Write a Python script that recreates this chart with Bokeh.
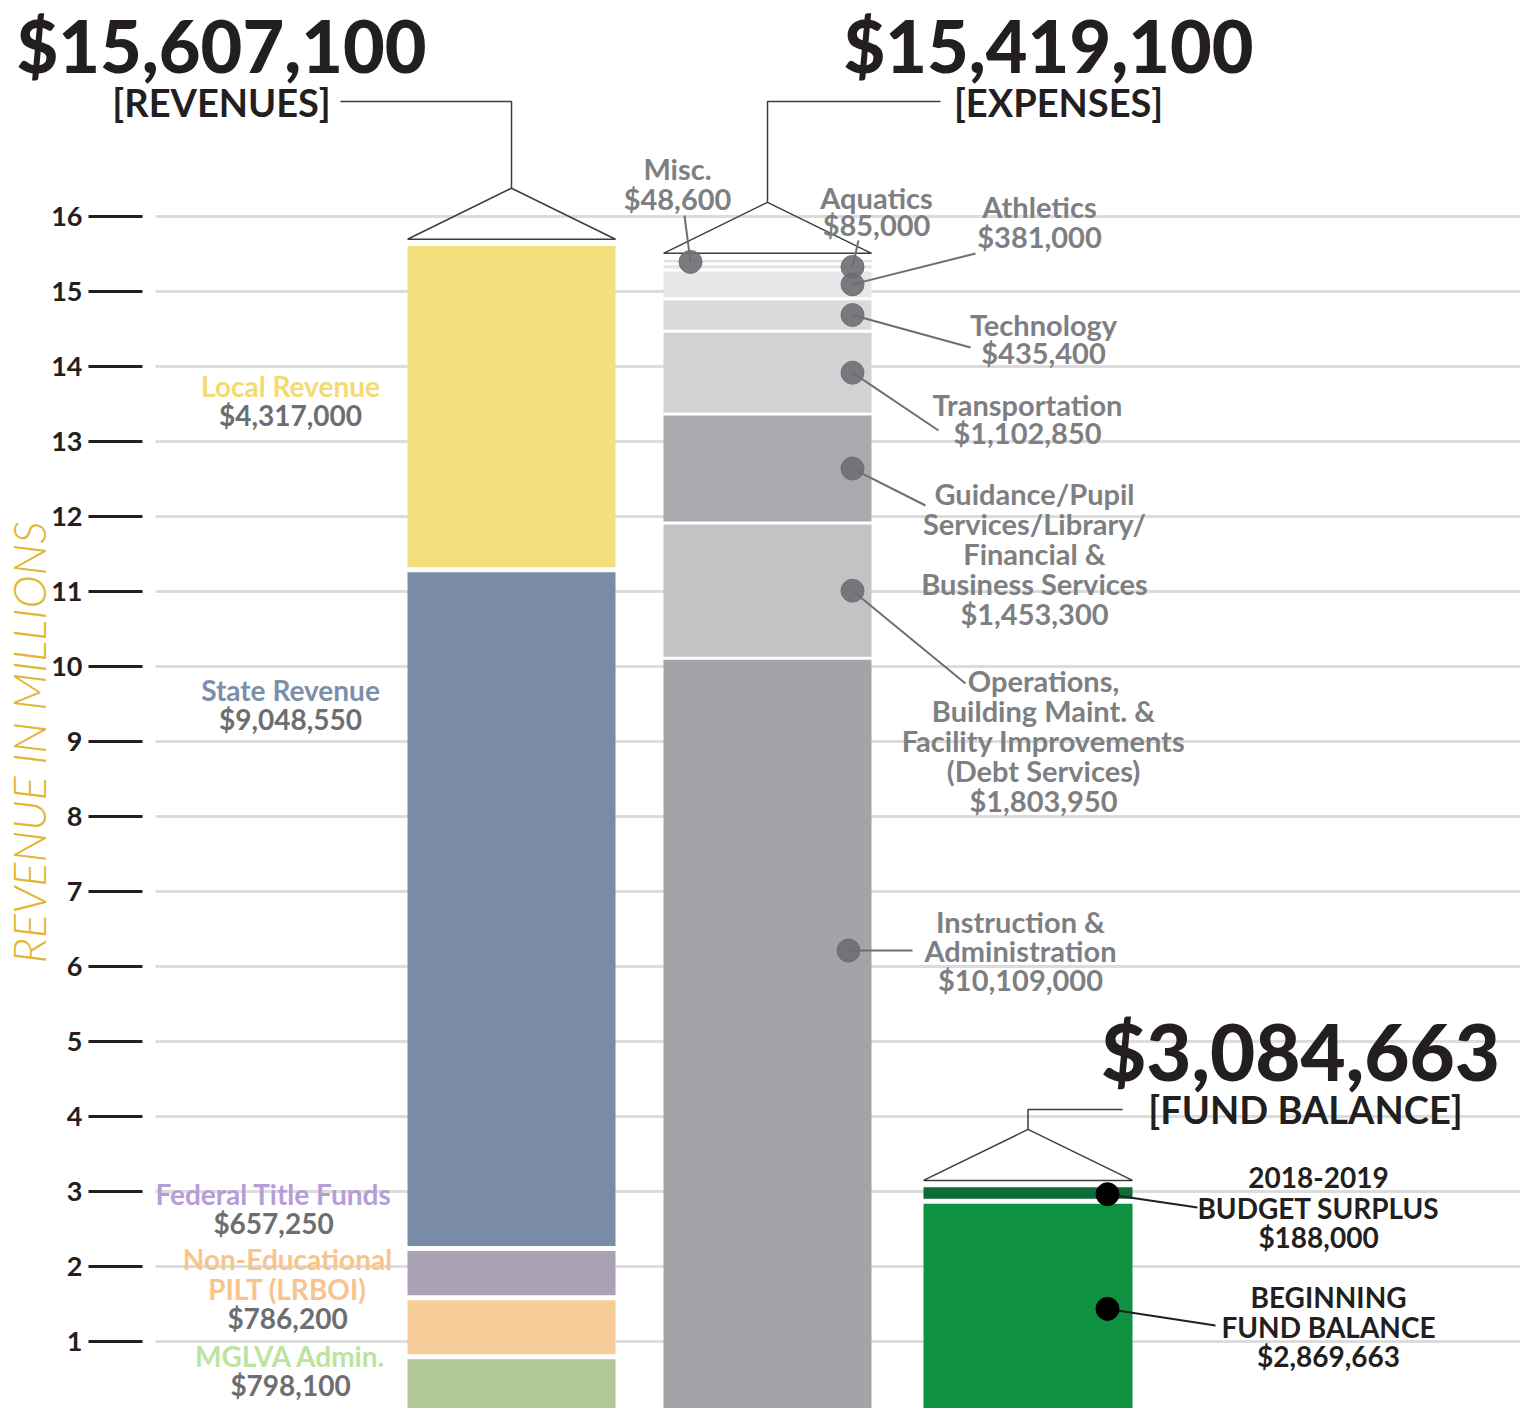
from bokeh.plotting import figure
from bokeh.models import Range1d, ColumnDataSource
from bokeh.core.properties import value
from bokeh.embed import file_html
from bokeh.resources import INLINE
import numpy as np

# ---------------- data (values in millions of dollars) ----------------
rev_names = ["MGLVA Admin.", "Non-Educational PILT (LRBOI)", "Federal Title Funds",
             "State Revenue", "Local Revenue"]
rev_values = [0.7981, 0.7862, 0.65725, 9.04855, 4.317]

exp_names = ["Instruction & Administration",
             "Operations, Building Maint. & Facility Improvements (Debt Services)",
             "Guidance/Pupil Services/Library/Financial & Business Services",
             "Transportation", "Technology", "Athletics", "Aquatics", "Misc."]
exp_values = [10.109, 1.80395, 1.4533, 1.10285, 0.4354, 0.381, 0.085, 0.0486]

fund_names = ["Beginning Fund Balance", "2018-2019 Budget Surplus"]
fund_values = [2.869663, 0.188]

y_ticks = list(range(1, 17))
y_tick_labels = [str(t) for t in y_ticks]
y_title = "REVENUE IN MILLIONS"

headline_rev = "$15,607,100"
headline_exp = "$15,419,100"
headline_fund = "$3,084,663"

# ---------------- styles ----------------
rev_colors = ["#b1c797", "#f6cd98", "#aaa1b4", "#7a8ba8", "#f4df7d"]
rev_label_colors = ["#bde3a0", "#f9c48b", "#b69dd5", "#7b8eab", "#f3da74"]
exp_colors = ["#a3a4a7", "#c2c3c5", "#a9aaad", "#d1d2d4", "#dadbdc", "#e6e7e8", "#e4e5e6", "#e0e1e2"]
fund_colors = ["#0f9142", "#0c6b36"]
GRAY_TXT = "#6d6e71"
EXP_TXT = "#7e7f82"
BLACK = "#231f20"
FONT = "Lato"
HEAD_FONT = "Lato Black"

# layout: x data units equal page pixels; y in millions
W, H = 1520, 1408
Y0, PX = 1416.0, 75.0          # page y of value 0, pixels per million


def v(py):
    """page y -> value (annotation placement only)"""
    return (Y0 - py) / PX


p = figure(width=W, height=H, output_backend="svg", toolbar_location=None,
           x_axis_type=None, y_axis_type=None,
           x_range=Range1d(0, W), y_range=Range1d(v(H), v(0)),
           min_border_left=0, min_border_right=0, min_border_top=0, min_border_bottom=0)
p.outline_line_color = None
p.background_fill_color = "white"
p.border_fill_color = "white"
p.xgrid.visible = False
p.ygrid.visible = False


def text(x, py, s, size=28, color=GRAY_TXT, style="bold", align="center", font=FONT, angle=0.0):
    p.text(x=[x], y=[v(py)], text=[s], text_font=value(font), text_font_size=value(f"{size}px"),
           text_font_style=style, text_color=color, text_align=align, text_baseline="middle",
           angle=angle)


# ---------------- value axis (ticks, labels, grid lines) ----------------
n = len(y_ticks)
p.segment(x0=[155] * n, x1=[W] * n, y0=y_ticks, y1=y_ticks, line_color="#dcdcdc", line_width=3)
p.segment(x0=[88] * n, x1=[142] * n, y0=y_ticks, y1=y_ticks, line_color=BLACK, line_width=3)
p.text(x=[82] * n, y=y_ticks, text=y_tick_labels, text_font=value(FONT),
       text_font_size=value("27px"), text_font_style="bold", text_color=BLACK,
       text_align="right", text_baseline="middle")
text(28, 742, y_title, size=45, color="#e2b630", style="italic", font="Lato Light",
     angle=np.pi / 2)


def stack(vals):
    tops = np.cumsum(vals)
    bottoms = tops - np.array(vals)
    return bottoms, tops


def draw_bar(xc, width, vals, colors, sep_w):
    b, t = stack(vals)
    src = ColumnDataSource(dict(x=[xc] * len(vals), bottom=b, top=t, color=colors))
    p.vbar(x="x", width=width, bottom="bottom", top="top", color="color", source=src,
           line_color=None)
    bounds = list(t[:-1])
    p.segment(x0=[xc - width / 2 - 1] * len(bounds), x1=[xc + width / 2 + 1] * len(bounds),
              y0=bounds, y1=bounds, line_color="white", line_width=sep_w)
    return b, t


def bracket(xc, width, total, head_x, head_py):
    base = total + 0.09
    apex = base + 0.68
    x0, x1 = xc - width / 2, xc + width / 2
    p.line([x0, xc, x1, x0], [base, apex, base, base], line_color="#3d3d3f", line_width=1.5)
    p.line([xc, xc, head_x], [apex, v(head_py), v(head_py)], line_color="#3d3d3f",
           line_width=1.5)


# ---------------- revenues ----------------
RX, BW = 511, 208
rb, rt = draw_bar(RX, BW, rev_values, rev_colors, 5)
bracket(RX, BW, rt[-1], 340, 101)
text(221, 44, headline_rev, size=72, color=BLACK, font=HEAD_FONT)
text(221, 101, "[REVENUES]", size=38, color=BLACK)

rev_label_lines = [["MGLVA Admin."], ["Non-Educational", "PILT (LRBOI)"], ["Federal Title Funds"],
                   ["State Revenue"], ["Local Revenue"]]
rev_label_x = [290, 287, 273, 290, 290]
rev_label_py = [1355, 1258, 1193, 689, 385]
for lines, val, col, lx, lpy in zip(rev_label_lines, rev_values, rev_label_colors,
                                    rev_label_x, rev_label_py):
    for i, ln in enumerate(lines):
        text(lx, lpy + 30 * i, ln, color=col)
    text(lx, lpy + 30 * len(lines) - 1, f"${round(val * 1e6):,}")

# ---------------- expenses ----------------
EX = 767
eb, et = draw_bar(EX, BW, exp_values, exp_colors, 3)
bracket(EX, BW, et[-1], 940, 101)
text(1048, 44, headline_exp, size=72, color=BLACK, font=HEAD_FONT)
text(1058, 101, "[EXPENSES]", size=38, color=BLACK)

exp_label_lines = [["Instruction &", "Administration"],
                   ["Operations,", "Building Maint. &", "Facility Improvements", "(Debt Services)"],
                   ["Guidance/Pupil", "Services/Library/", "Financial &", "Business Services"],
                   ["Transportation"], ["Technology"], ["Athletics"], ["Aquatics"], ["Misc."]]
exp_label_x = [1020, 1043, 1034, 1027, 1043, 1039, 876, 677]
exp_label_py = [921, 680, 493, 404, 324, 206, 197, 168]
exp_line_step = [29, 30, 30, 28, 28, 30, 27, 30]
exp_leader_end = [(912, 950), (965, 683), (925, 505), (938, 430), (970, 347),
                  (975, 253), (858, 240), (684, 215)]
exp_dot_x = [848, 852, 852, 852, 852, 852, 852, 690]

dot_xs, dot_ys = [], []
for k, (lines, val) in enumerate(zip(exp_label_lines, exp_values)):
    lx, lpy, st = exp_label_x[k], exp_label_py[k], exp_line_step[k]
    for i, ln in enumerate(lines):
        text(lx, lpy + st * i, ln, size=29, color=EXP_TXT)
    text(lx, lpy + st * len(lines), f"${round(val * 1e6):,}", size=29, color=EXP_TXT)
    ex, epy = exp_leader_end[k]
    if val > 5:   # tall segment: dot level with its label
        dy = v(epy)
    else:
        dy = (eb[k] + et[k]) / 2
    dot_xs.append(exp_dot_x[k])
    dot_ys.append(dy)
    p.line([exp_dot_x[k], ex], [dy, v(epy)], line_color="#6d6e71", line_width=2)
p.scatter(dot_xs, dot_ys, size=23, color="#6d6e71", alpha=0.9)

# ---------------- fund balance ----------------
FX, FW = 1027.5, 209
fb, ft = draw_bar(FX, FW, fund_values, fund_colors, 5)
bracket(FX, FW, ft[-1], 1122, 1109)
text(1300, 1050, headline_fund, size=78, color=BLACK, font=HEAD_FONT)
text(1305, 1108, "[FUND BALANCE]", size=38, color=BLACK)

fund_label_lines = [["BEGINNING", "FUND BALANCE"], ["2018-2019", "BUDGET SURPLUS"]]
fund_label_x = [1328, 1318]
fund_label_py = [1296, 1177]
fund_leader_end = [(1215, 1325), (1197, 1207)]
fdx, fdy = [], []
for k, (lines, val) in enumerate(zip(fund_label_lines, fund_values)):
    for i, ln in enumerate(lines):
        text(fund_label_x[k], fund_label_py[k] + 30 * i, ln, color=BLACK)
    text(fund_label_x[k], fund_label_py[k] + 30 * len(lines) - 1, f"${round(val * 1e6):,}",
         color=BLACK)
    dy = (fb[k] + ft[k]) / 2
    fdx.append(1107)
    fdy.append(dy)
    ex, epy = fund_leader_end[k]
    p.line([1107, ex], [dy, v(epy)], line_color=BLACK, line_width=2)
p.scatter(fdx, fdy, size=23, color="black")

open("out.html", "w").write(file_html(p, INLINE))
